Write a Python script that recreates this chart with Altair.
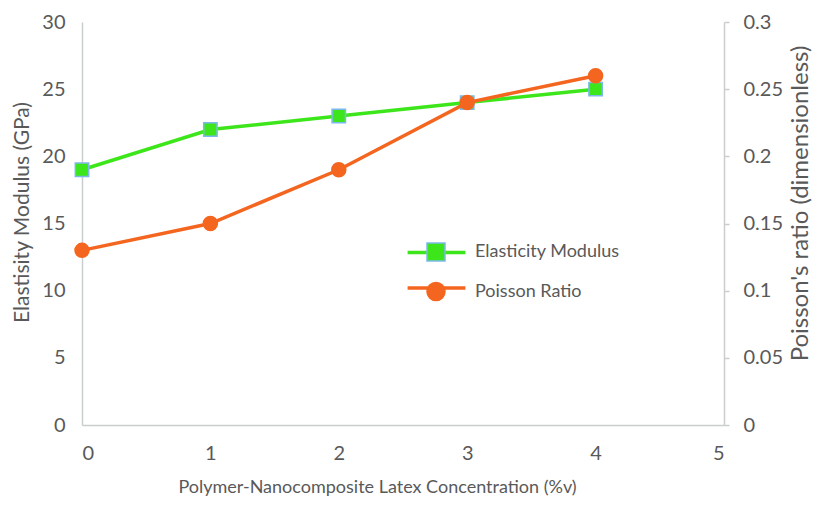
import altair as alt
import pandas as pd

# ---- data ----
concentration = [0, 1, 2, 3, 4]
elasticity_gpa = [19, 22, 23, 24, 25]
poisson_ratio = [0.13, 0.15, 0.19, 0.24, 0.26]
series_names = ["Elasticity Modulus", "Poisson Ratio"]
line_keys = [s + " line" for s in series_names]
x_ticks = [0, 1, 2, 3, 4, 5]
left_ticks = [0, 5, 10, 15, 20, 25, 30]
right_ticks = [0, 0.05, 0.1, 0.15, 0.2, 0.25, 0.3]

GREEN = "#3DE61B"
ORANGE = "#F4661F"
BLUE = "#7DB8EA"
TEXT = "#595959"
AXIS = "#C9CDCD"
FONT = "Lato"

df_e = pd.DataFrame({"x": concentration, "value": elasticity_gpa,
                     "series": series_names[0], "key": line_keys[0]})
df_p = pd.DataFrame({"x": concentration, "value": poisson_ratio,
                     "series": series_names[1], "key": line_keys[1]})

LX, LY = 324, 220

x_enc = alt.X(
    "x:Q",
    scale=alt.Scale(domain=[0, 5], nice=False, zero=False),
    axis=alt.Axis(values=x_ticks, format="d", grid=False, ticks=False,
                  domainColor=AXIS, domainWidth=1.5, labelPadding=18, titlePadding=15,
                  labelFontSize=20, titleFontSize=18, titleX=295,
                  title="Polymer-Nanocomposite Latex Concentration (%v)"),
)

y_left = alt.Y(
    "value:Q",
    scale=alt.Scale(domain=[0, 30], nice=False),
    axis=alt.Axis(values=left_ticks, format="d", orient="left", grid=False, ticks=False,
                  domainColor=AXIS, domainWidth=1.5, labelPadding=17, titlePadding=9,
                  labelFontSize=20, titleFontSize=21, titleY=190,
                  title="Elastisity Modulus (GPa)"),
)
y_right = alt.Y(
    "value:Q",
    scale=alt.Scale(domain=[0, 0.3], nice=False),
    axis=alt.Axis(values=right_ticks, format=".2~f", orient="right", grid=False, ticks=True,
                  tickSize=5, tickColor=AXIS, tickWidth=1.5,
                  domainColor=AXIS, domainWidth=1.5, labelPadding=14, titlePadding=6,
                  labelFontSize=20, titleFontSize=24, titleY=181,
                  titleAngle=270, titleBaseline="top",
                  title="Poisson's ratio (dimensionless)"),
)

line_legend = alt.Legend(
    orient="none", legendX=LX, legendY=LY, title=None, padding=0,
    symbolType="M-3.4,0H3.4", symbolSize=289, symbolStrokeWidth=3.5, symbolOffset=20,
    labelExpr="''", labelFont=FONT, labelFontSize=18, rowPadding=15.5, zindex=0,
)
marker_legend = alt.Legend(
    orient="none", legendX=LX, legendY=LY, title=None, padding=0,
    symbolSize=324, symbolStrokeWidth=1.5, symbolOffset=20, labelOffset=29,
    labelFont=FONT, labelFontSize=18, labelColor=TEXT, rowPadding=15.5, zindex=1,
)

line_color = alt.Color("key:N", scale=alt.Scale(domain=line_keys, range=[GREEN, ORANGE]),
                       legend=line_legend)
pt_fill = alt.Fill("series:N", scale=alt.Scale(domain=series_names, range=[GREEN, ORANGE]),
                   legend=marker_legend)
pt_stroke = alt.Stroke("series:N", scale=alt.Scale(domain=series_names, range=[BLUE, ORANGE]),
                       legend=marker_legend)
pt_shape = alt.Shape("series:N", scale=alt.Scale(domain=series_names, range=["square", "circle"]),
                     legend=marker_legend)

e_line = alt.Chart(df_e).mark_line(strokeWidth=3.5).encode(x=x_enc, y=y_left, color=line_color)
e_pts = alt.Chart(df_e).mark_point(filled=True, size=180, strokeWidth=1.5, opacity=1).encode(
    x=x_enc, y=y_left, fill=pt_fill, stroke=pt_stroke, shape=pt_shape)
p_line = alt.Chart(df_p).mark_line(strokeWidth=3.5).encode(x=x_enc, y=y_right, color=line_color)
p_pts = alt.Chart(df_p).mark_point(filled=True, size=196, strokeWidth=1.5, opacity=1).encode(
    x=x_enc, y=y_right, fill=pt_fill, stroke=pt_stroke, shape=pt_shape)

left = alt.layer(e_line, e_pts)
right = alt.layer(p_line, p_pts)

chart = (
    alt.layer(left, right)
    .resolve_scale(y="independent")
    .properties(
        width=642, height=403,
        autosize=alt.AutoSizeParams(type="none"),
        padding={"left": 74, "top": 14, "right": 95, "bottom": 72},
    )
    .configure_view(stroke=None)
    .configure_axis(labelFont=FONT, titleFont=FONT,
                    labelColor=TEXT, titleColor=TEXT, titleFontWeight="normal")
)

chart.save("out.html", embed_options={"renderer": "svg", "actions": False})
